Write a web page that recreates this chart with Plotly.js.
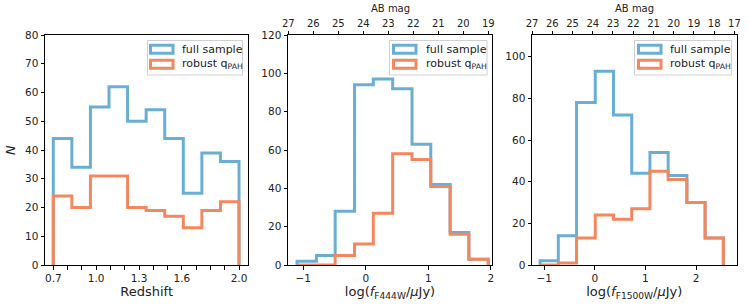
<!DOCTYPE html>
<html>
<head>
<meta charset="utf-8">
<script src="https://cdn.plot.ly/plotly-3.0.1.min.js"></script>
<style>html,body{margin:0;padding:0;background:#fff;}#plot{width:748px;height:307px;}</style>
</head>
<body>
<div id="plot"></div>
<script>
// ---- data ----
const zEdges = [0.70, 0.83, 0.96, 1.09, 1.22, 1.35, 1.48, 1.61, 1.74, 1.87, 2.00];
const zFull = [44, 34, 55, 62, 50, 54, 44, 25, 39, 36];
const zRobust = [24, 20, 31, 31, 20, 19, 17, 13, 19, 22];

const f444Edges = [-1.10, -0.79, -0.49, -0.18, 0.12, 0.43, 0.74, 1.04, 1.35, 1.65, 1.96];
const f444Full = [2, 5, 28, 94, 97, 92, 63, 42, 17, 3];
const f444Robust = [0, 0, 5, 11, 27, 58, 55, 41, 16, 3];

const f1500Edges = [-1.08, -0.72, -0.36, 0.01, 0.37, 0.73, 1.09, 1.45, 1.82, 2.18, 2.54];
const f1500Full = [2, 14, 78, 93, 72, 44, 54, 43, 30, 13];
const f1500Robust = [0, 1, 13, 24, 22, 27, 45, 41, 30, 13];

const zMajorTicks = [0.7, 1.0, 1.3, 1.6, 2.0];
const zMinorTicks = [0.7, 0.8, 0.9, 1.0, 1.1, 1.2, 1.3, 1.4, 1.5, 1.6, 1.7, 1.8, 1.9, 2.0];
const zTickText = ['0.7', '1.0', '1.3', '1.6', '2.0'];
const mag444Ticks = [27, 26, 25, 24, 23, 22, 21, 20, 19];
const mag1500Ticks = [27, 26, 25, 24, 23, 22, 21, 20, 19, 18, 17];

const labels = ['full sample', 'robust q<sub>PAH</sub>'];
const colors = ['#6aaed6', '#f5875f'];

// ---- helpers ----
function step(edges, counts) {
  const x = [edges[0]], y = [0];
  for (let i = 0; i < counts.length; i++) {
    x.push(edges[i], edges[i + 1]);
    y.push(counts[i], counts[i]);
  }
  x.push(edges[edges.length - 1]); y.push(0);
  return {x, y};
}
const magToLog = m => (23.9 - m) / 2.5;

const W = 748, H = 307;
const px = v => v / W, py = v => 1 - v / H;
const FONT = 'DejaVu Sans, Liberation Sans, sans-serif';

const traces = [];
// full sample on the bottom axis, robust on the given x axis (top axis shares the same range)
function addHist(edges, full, robust, xaFull, xaRobust, ya) {
  [[full, xaFull], [robust, xaRobust]].forEach((pair, k) => {
    const s = step(edges, pair[0]);
    traces.push({type: 'scatter', mode: 'lines', x: s.x, y: s.y, xaxis: pair[1], yaxis: ya,
      name: labels[k].replace(/<[^>]+>/g, ''),
      line: {color: colors[k], width: 3}, showlegend: false, hoverinfo: 'skip'});
  });
}
addHist(zEdges, zFull, zRobust, 'x', 'x', 'y');
addHist(f444Edges, f444Full, f444Robust, 'x2', 'x4', 'y2');
addHist(f1500Edges, f1500Full, f1500Robust, 'x3', 'x5', 'y3');

const yDom = [1 - 265 / H, 1 - 35 / H];
const axBase = {showline: true, linecolor: '#000', linewidth: 1, ticks: 'outside', ticklen: 3.5,
  tickwidth: 1, tickcolor: '#000', showgrid: false, zeroline: false,
  tickfont: {family: FONT, size: 10.5, color: '#222'}};
const topFont = {family: FONT, size: 10, color: '#222'};

const r2 = [-1.245, 2.02], r3 = [-1.24, 2.80];
const layout = {
  width: W, height: H, margin: {l: 0, r: 0, t: 0, b: 0}, paper_bgcolor: '#fff', plot_bgcolor: '#fff',
  showlegend: false, font: {family: FONT, color: '#222'},
  xaxis: Object.assign({}, axBase, {domain: [45 / W, 248.3 / W], range: [0.642, 2.065], anchor: 'y', mirror: true,
    tickmode: 'array', tickvals: zMajorTicks, ticktext: zTickText,
    minor: {tickmode: 'array', tickvals: zMinorTicks, ticks: 'outside', ticklen: 3.5, tickwidth: 1, tickcolor: '#000', showgrid: false},
    title: {text: 'Redshift', font: {family: FONT, size: 13}, standoff: 3}}),
  yaxis: Object.assign({}, axBase, {domain: yDom, range: [0, 80], anchor: 'x', mirror: true, dtick: 10,
    title: {text: '<i>N</i>', font: {family: FONT, size: 13}, standoff: 6}}),
  xaxis2: Object.assign({}, axBase, {domain: [288 / W, 492 / W], range: r2, anchor: 'y2', mirror: true,
    dtick: 1, title: {text: 'log(<i>f</i><sub>F444W</sub>/<i>μ</i>Jy)', font: {family: FONT, size: 13}, standoff: 3}}),
  yaxis2: Object.assign({}, axBase, {domain: yDom, range: [0, 120], anchor: 'x2', mirror: true, dtick: 20}),
  xaxis3: Object.assign({}, axBase, {domain: [532 / W, 736.5 / W], range: r3, anchor: 'y3', mirror: true,
    dtick: 1, title: {text: 'log(<i>f</i><sub>F1500W</sub>/<i>μ</i>Jy)', font: {family: FONT, size: 13}, standoff: 3}}),
  yaxis3: Object.assign({}, axBase, {domain: yDom, range: [0, 110.4], anchor: 'x3', mirror: true,
    tickvals: [0, 20, 40, 60, 80, 100]}),
  xaxis4: Object.assign({}, axBase, {overlaying: 'x2', side: 'top', anchor: 'y2', range: r2, tickfont: topFont,
    tickmode: 'array', tickvals: mag444Ticks.map(magToLog), ticktext: mag444Ticks.map(String)}),
  xaxis5: Object.assign({}, axBase, {overlaying: 'x3', side: 'top', anchor: 'y3', range: r3, tickfont: topFont,
    tickmode: 'array', tickvals: mag1500Ticks.map(magToLog), ticktext: mag1500Ticks.map(String)}),
  shapes: [], annotations: []
};

// top-axis titles
[[288, 492], [532, 736.5]].forEach(d => {
  layout.annotations.push({xref: 'paper', yref: 'paper', x: px((d[0] + d[1]) / 2), y: py(8.5), xanchor: 'center', yanchor: 'middle',
    text: 'AB mag', showarrow: false, font: {family: FONT, size: 10, color: '#222'}});
});

// custom legends (outlined patches like matplotlib step histograms)
const legendBoxes = [
  {x0: 147.5, x1: 242.5, patch: 150.5, text: 180},
  {x0: 389.5, x1: 487, patch: 393.5, text: 424},
  {x0: 634.5, x1: 731.5, patch: 638.5, text: 668}
];
legendBoxes.forEach(b => {
  layout.shapes.push({type: 'rect', xref: 'paper', yref: 'paper', x0: px(b.x0), x1: px(b.x1), y0: py(75), y1: py(40.5),
    line: {color: '#d0d0d0', width: 1}, fillcolor: 'rgba(255,255,255,0.85)', layer: 'above'});
  [0, 1].forEach(k => {
    const yc = 49.2 + k * 15;
    layout.shapes.push({type: 'rect', xref: 'paper', yref: 'paper', x0: px(b.patch), x1: px(b.patch + 22.5),
      y0: py(yc + 4), y1: py(yc - 4), line: {color: colors[k], width: 3}, fillcolor: '#fff', layer: 'above'});
    layout.annotations.push({xref: 'paper', yref: 'paper', x: px(b.text), y: py(yc), xanchor: 'left', yanchor: 'middle',
      text: labels[k], showarrow: false, font: {family: FONT, size: 11, color: '#222'}});
  });
});

Plotly.newPlot('plot', traces, layout, {displayModeBar: false, staticPlot: true});
</script>
</body>
</html>
